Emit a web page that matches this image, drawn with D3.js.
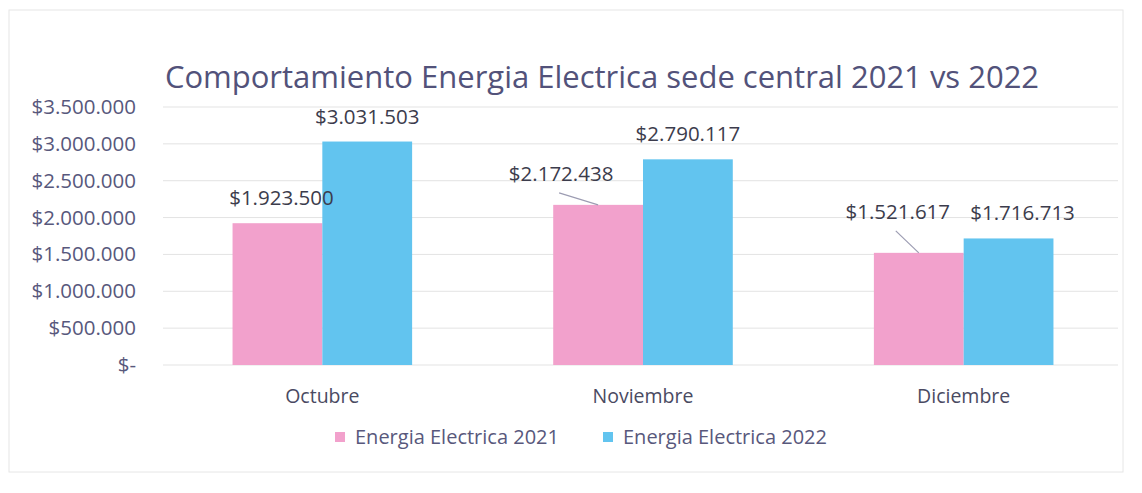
<!DOCTYPE html>
<html>
<head>
<meta charset="utf-8">
<script src="https://cdn.jsdelivr.net/npm/d3@7"></script>
<style>
  body { margin: 0; background: #fff; }
  text { font-family: "Open Sans", "Noto Sans", sans-serif; }
</style>
</head>
<body>
<svg id="chart" width="1142" height="493"></svg>
<script>
// Chart data
const months   = ['Octubre', 'Noviembre', 'Diciembre'];
const series   = ['Energia Electrica 2021', 'Energia Electrica 2022'];
const values21 = [1923500, 2172438, 1521617];
const values22 = [3031503, 2790117, 1716713];
const yTicks   = [0, 500000, 1000000, 1500000, 2000000, 2500000, 3000000, 3500000];

const colors   = ['#f2a1cc', '#62c4ef'];
const axisCol  = '#58587c';

const svg = d3.select('#chart');

// faint outer frame of the chart area
svg.append('rect')
  .attr('x', 9).attr('y', 10).attr('width', 1114).attr('height', 462)
  .attr('fill', 'none').attr('stroke', '#e6e6e6');

const x  = d3.scaleBand().domain(months).range([162, 1124]).paddingInner(0.44).paddingOuter(0.22);
const xs = d3.scaleBand().domain(series).range([0, x.bandwidth()]);
const y  = d3.scaleLinear().domain([0, 3500000]).range([365, 107]);

const fmt = v => v === 0 ? '$-' : '$' + d3.format(',')(v).replace(/,/g, '.');

// gridlines
svg.append('g')
  .selectAll('line').data(yTicks).join('line')
  .attr('x1', 163).attr('x2', 1118)
  .attr('y1', d => y(d)).attr('y2', d => y(d))
  .attr('stroke', '#e3e3e3').attr('stroke-width', 1);

// y axis labels
const yAxis = svg.append('g')
  .attr('transform', 'translate(150,0)')
  .call(d3.axisLeft(y).tickValues(yTicks).tickFormat(fmt).tickSize(0).tickPadding(14));
yAxis.select('.domain').remove();
yAxis.selectAll('text').attr('fill', axisCol).attr('font-size', '20.5px')
  .style('font-family', '"Open Sans", sans-serif');

// x axis labels
const xAxis = svg.append('g')
  .attr('transform', `translate(0,${y(0)})`)
  .call(d3.axisBottom(x).tickSize(0).tickPadding(24));
xAxis.select('.domain').remove();
xAxis.selectAll('text').attr('fill', '#4a4a62').attr('font-size', '19.5px')
  .style('font-family', '"Open Sans", sans-serif');

// bars
const rows = months.map((m, i) => ({ month: m, vals: [values21[i], values22[i]] }));
const groups = svg.append('g').selectAll('g').data(rows).join('g')
  .attr('transform', d => `translate(${x(d.month)},0)`);

groups.selectAll('rect')
  .data(d => d.vals.map((v, j) => ({ key: series[j], v, j })))
  .join('rect')
  .attr('x', d => xs(d.key))
  .attr('y', d => y(d.v))
  .attr('width', xs.bandwidth())
  .attr('height', d => y(0) - y(d.v))
  .attr('fill', d => colors[d.j]);

// data labels; the 2021 labels of Nov/Dic were dragged up-left, with a leader line
const moved = { Noviembre: [-37, -24], Diciembre: [-21, -34] };
groups.each(function (d) {
  const g = d3.select(this);
  d.vals.forEach((v, j) => {
    const cx = xs(series[j]) + xs.bandwidth() / 2;
    const top = y(v);
    let lx = cx, ly = top - 18;
    if (j === 0 && d.month === 'Octubre') lx = cx + 4;
    if (j === 1 && d.month === 'Diciembre') lx = cx + 14;
    if (j === 0 && moved[d.month]) {
      lx = cx + moved[d.month][0];
      ly = top + moved[d.month][1];
      g.append('line')
        .attr('x1', lx - 2).attr('y1', ly + 12)
        .attr('x2', cx).attr('y2', top)
        .attr('stroke', '#9c9cb2').attr('stroke-width', 1.2);
    }
    g.append('text')
      .attr('x', lx).attr('y', ly)
      .attr('text-anchor', 'middle')
      .attr('fill', '#3c3c4c')
      .attr('font-size', '20.5px')
      .text(fmt(v));
  });
});

// title
svg.append('text')
  .attr('x', 602).attr('y', 88)
  .attr('text-anchor', 'middle')
  .attr('fill', '#52527a')
  .attr('font-size', '31px')
  .text('Comportamiento Energia Electrica sede central 2021 vs 2022');

// legend
const legend = svg.append('g').attr('transform', 'translate(335,437)');
const legX = [0, 268];
series.forEach((s, i) => {
  legend.append('rect')
    .attr('x', legX[i]).attr('y', -5).attr('width', 10).attr('height', 10)
    .attr('fill', colors[i]);
  legend.append('text')
    .attr('x', legX[i] + 20).attr('y', 7)
    .attr('fill', axisCol)
    .attr('font-size', '20px')
    .text(s);
});
</script>
</body>
</html>
